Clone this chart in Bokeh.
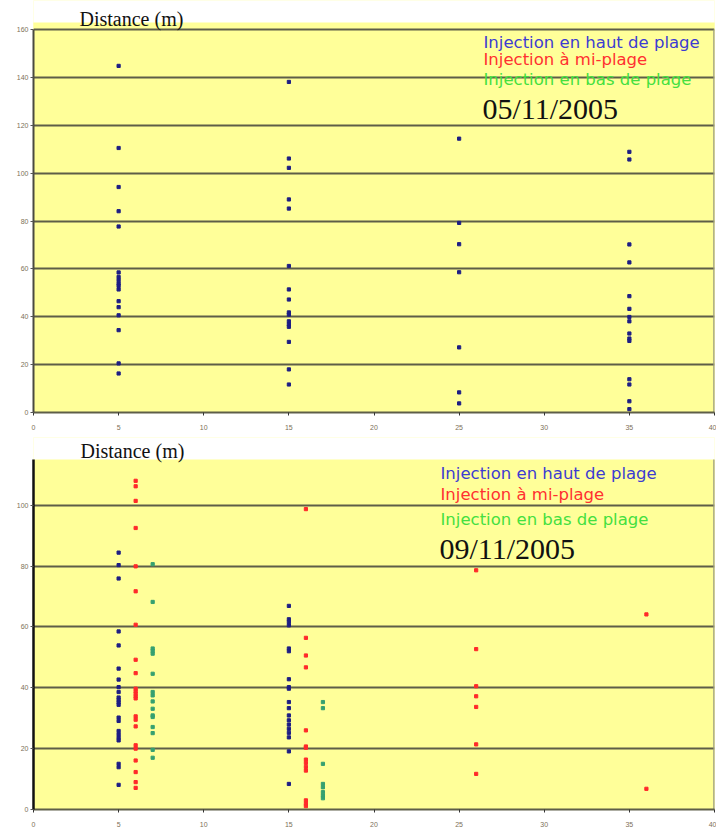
from bokeh.plotting import figure
from bokeh.models import Range1d, FixedTicker, Label, BoxAnnotation
from bokeh.layouts import column
from bokeh.embed import file_html
from bokeh.resources import INLINE

# ---- survey of 05/11/2005 : tracer positions (distance, m) per cross-shore line ----
nov05_x = [5, 15, 25, 35]
nov05_haut = [
    [144.8, 110.5, 94.2, 84.1, 77.7, 58.5, 56.6, 55.3, 53.9, 52.9, 51.4, 46.5, 44.0, 40.6, 34.4, 20.5, 16.3],
    [138.1, 106.1, 102.2, 89.0, 85.2, 61.2, 51.4, 47.2, 41.8, 40.9, 38.1, 36.8, 35.8, 29.5, 18.0, 11.7],
    [114.4, 79.2, 70.3, 58.6, 27.2, 8.4, 3.8],
    [108.9, 105.7, 70.2, 62.7, 48.6, 43.3, 39.9, 38.1, 33.0, 30.9, 29.9, 13.9, 11.7, 4.7, 1.4],
]

# ---- survey of 09/11/2005 ----
nov09_haut_x = [5, 15]
nov09_haut = [
    [84.4, 80.3, 75.9, 58.5, 53.9, 46.3, 42.7, 40.2, 38.6, 36.8, 36.0, 35.2, 34.4, 30.2, 29.1,
     25.8, 24.7, 23.6, 22.7, 15.0, 13.9, 8.1],
    [66.9, 62.5, 61.6, 60.5, 52.9, 52.0, 42.8, 40.2, 39.7, 35.3, 33.3, 30.9, 29.3, 27.9, 26.5,
     25.2, 23.7, 19.1, 8.4],
]
nov09_mi_x = [6, 16, 26, 36]
nov09_mi = [
    [108.0, 106.2, 101.4, 92.5, 79.9, 71.7, 60.7, 49.2, 44.8, 39.7, 38.8, 38.0, 37.2, 36.5, 30.6,
     29.5, 27.3, 21.1, 20.0, 16.1, 12.3, 9.0, 7.1],
    [98.7, 56.4, 50.6, 46.7, 26.0, 20.7, 20.3, 16.4, 15.3, 14.0, 12.8, 3.0, 1.9, 1.1],
    [78.6, 52.7, 40.5, 37.2, 33.7, 21.4, 11.7],
    [64.1, 6.8],
]
nov09_bas_x = [7, 17]
nov09_bas = [
    [80.6, 68.2, 52.9, 52.1, 51.2, 44.6, 38.6, 37.5, 35.5, 33.1, 30.9, 30.4, 27.1, 25.1, 19.6, 17.0],
    [35.3, 33.3, 15.0, 8.4, 7.3, 5.7, 4.6, 3.7],
]

x_ticks = [0, 5, 10, 15, 20, 25, 30, 35, 40]
legend_texts = ["Injection en haut de plage", "Injection à mi-plage", "Injection en bas de plage"]
dates = ["05/11/2005", "09/11/2005"]

YELLOW = "#ffff99"
GRID = "#5e5e48"
C_HAUT, C_MI, C_BAS = "#1e1e84", "#ff2a2a", "#35a070"
T_HAUT, T_MI, T_BAS = "#3c3cd2", "#ff3030", "#44e040"


def flatten(xs, groups):
    px, py = [], []
    for x, ys in zip(xs, groups):
        px += [x] * len(ys)
        py += ys
    return px, py


def panel(height, ymax, yticks, left, top_space, top_white, bottom, pad_left, axis_color):
    """Frame reaches the top of the figure; the band above the sheet is painted white."""
    fw = 716 - left - 2
    fh = height - bottom
    plot_h = fh - top_space                 # pixels used by 0..ymax
    sheet_top = fh - top_white              # upper edge of the yellow sheet
    y_top = ymax * fh / plot_h
    p = figure(width=716, height=height, output_backend="svg", toolbar_location=None,
               x_range=Range1d(0, 40), y_range=Range1d(0, y_top),
               min_border_left=left, min_border_right=2,
               min_border_top=0, min_border_bottom=bottom,
               background_fill_color=YELLOW, border_fill_color="white",
               outline_line_color=None)
    p.add_layout(BoxAnnotation(left=-pad_left, right=fw + 2, bottom=-bottom, top=sheet_top,
                               left_units="screen", right_units="screen",
                               top_units="screen", bottom_units="screen",
                               fill_color=YELLOW, fill_alpha=1, line_alpha=0, level="image"))
    p.add_layout(BoxAnnotation(left=-left, right=fw + 4, bottom=sheet_top, top=fh + 6,
                               left_units="screen", right_units="screen",
                               top_units="screen", bottom_units="screen",
                               fill_color="white", fill_alpha=1, line_alpha=0, level="image"))
    p.xgrid.visible = False
    p.ygrid.ticker = FixedTicker(ticks=yticks)
    p.ygrid.grid_line_color = GRID
    p.ygrid.grid_line_width = 2
    p.xaxis.ticker = FixedTicker(ticks=x_ticks)
    p.yaxis.ticker = FixedTicker(ticks=yticks)
    p.yaxis.bounds = (0, ymax)
    for ax in (p.xaxis[0], p.yaxis[0]):
        ax.major_label_text_font = "Liberation Sans"
        ax.major_label_text_font_size = "7px"
        ax.major_label_text_color = "#7d7058"
        ax.minor_tick_line_color = None
        ax.major_tick_in = 0
        ax.major_tick_out = 3
    p.xaxis.axis_line_color = GRID
    p.xaxis.axis_line_width = 2
    p.xaxis.major_tick_line_color = "#333333"
    p.xaxis.major_label_standoff = 9
    p.yaxis.axis_line_color = axis_color
    p.yaxis.axis_line_width = 2
    p.yaxis.major_tick_line_color = "#555555"
    p.yaxis.major_label_standoff = 2
    # right-hand border of the chart area
    p.line([40, 40], [0, ymax], line_color="#9a9a80", line_width=2.5)
    return p, fw, fh


def texts(p, dx, dy_list, date, dist_dx, dist_dy):
    for t, c, dy in zip(legend_texts, [T_HAUT, T_MI, T_BAS], dy_list[:3]):
        p.add_layout(Label(x=dx, y=dy, x_units="screen", y_units="screen", text=t,
                           text_color=c, text_font="DejaVu Sans", text_font_size="16.5px"))
    p.add_layout(Label(x=dx - 1, y=dy_list[3], x_units="screen", y_units="screen", text=date,
                       text_color="#111111", text_font="Liberation Serif", text_font_size="30px"))
    p.add_layout(Label(x=dist_dx, y=dist_dy, x_units="screen", y_units="screen",
                       text="Distance (m)", text_color="#111111",
                       text_font="Liberation Serif", text_font_size="20px"))


# top panel: 05/11/2005
p1, fw1, fh1 = panel(437, 160, [0, 20, 40, 60, 80, 100, 120, 140, 160],
                     left=31, top_space=29, top_white=22, bottom=25, pad_left=21,
                     axis_color="#4a4a40")
hx, hy = flatten(nov05_x, nov05_haut)
p1.scatter(hx, hy, marker="square", size=3.2, color=C_HAUT)
texts(p1, 450, [361, 344, 324, 288], dates[0], 46, 383)

# bottom panel: 09/11/2005
p2, fw2, fh2 = panel(393, 115, [0, 20, 40, 60, 80, 100],
                     left=33, top_space=22, top_white=22, bottom=21, pad_left=20,
                     axis_color="#111111")
p2.yaxis.axis_line_width = 2.5
bx, by = flatten(nov09_haut_x, nov09_haut)
rx, ry = flatten(nov09_mi_x, nov09_mi)
gx, gy = flatten(nov09_bas_x, nov09_bas)
p2.scatter(bx, by, marker="square", size=3.2, color=C_HAUT)
p2.scatter(rx, ry, marker="square", size=3.2, color=C_MI)
p2.scatter(gx, gy, marker="square", size=3.2, color=C_BAS)
texts(p2, 407, [327, 306, 281, 245], dates[1], 47, 348)

layout = column(p1, p2, spacing=0)
open("out.html", "w").write(file_html(layout, INLINE))
